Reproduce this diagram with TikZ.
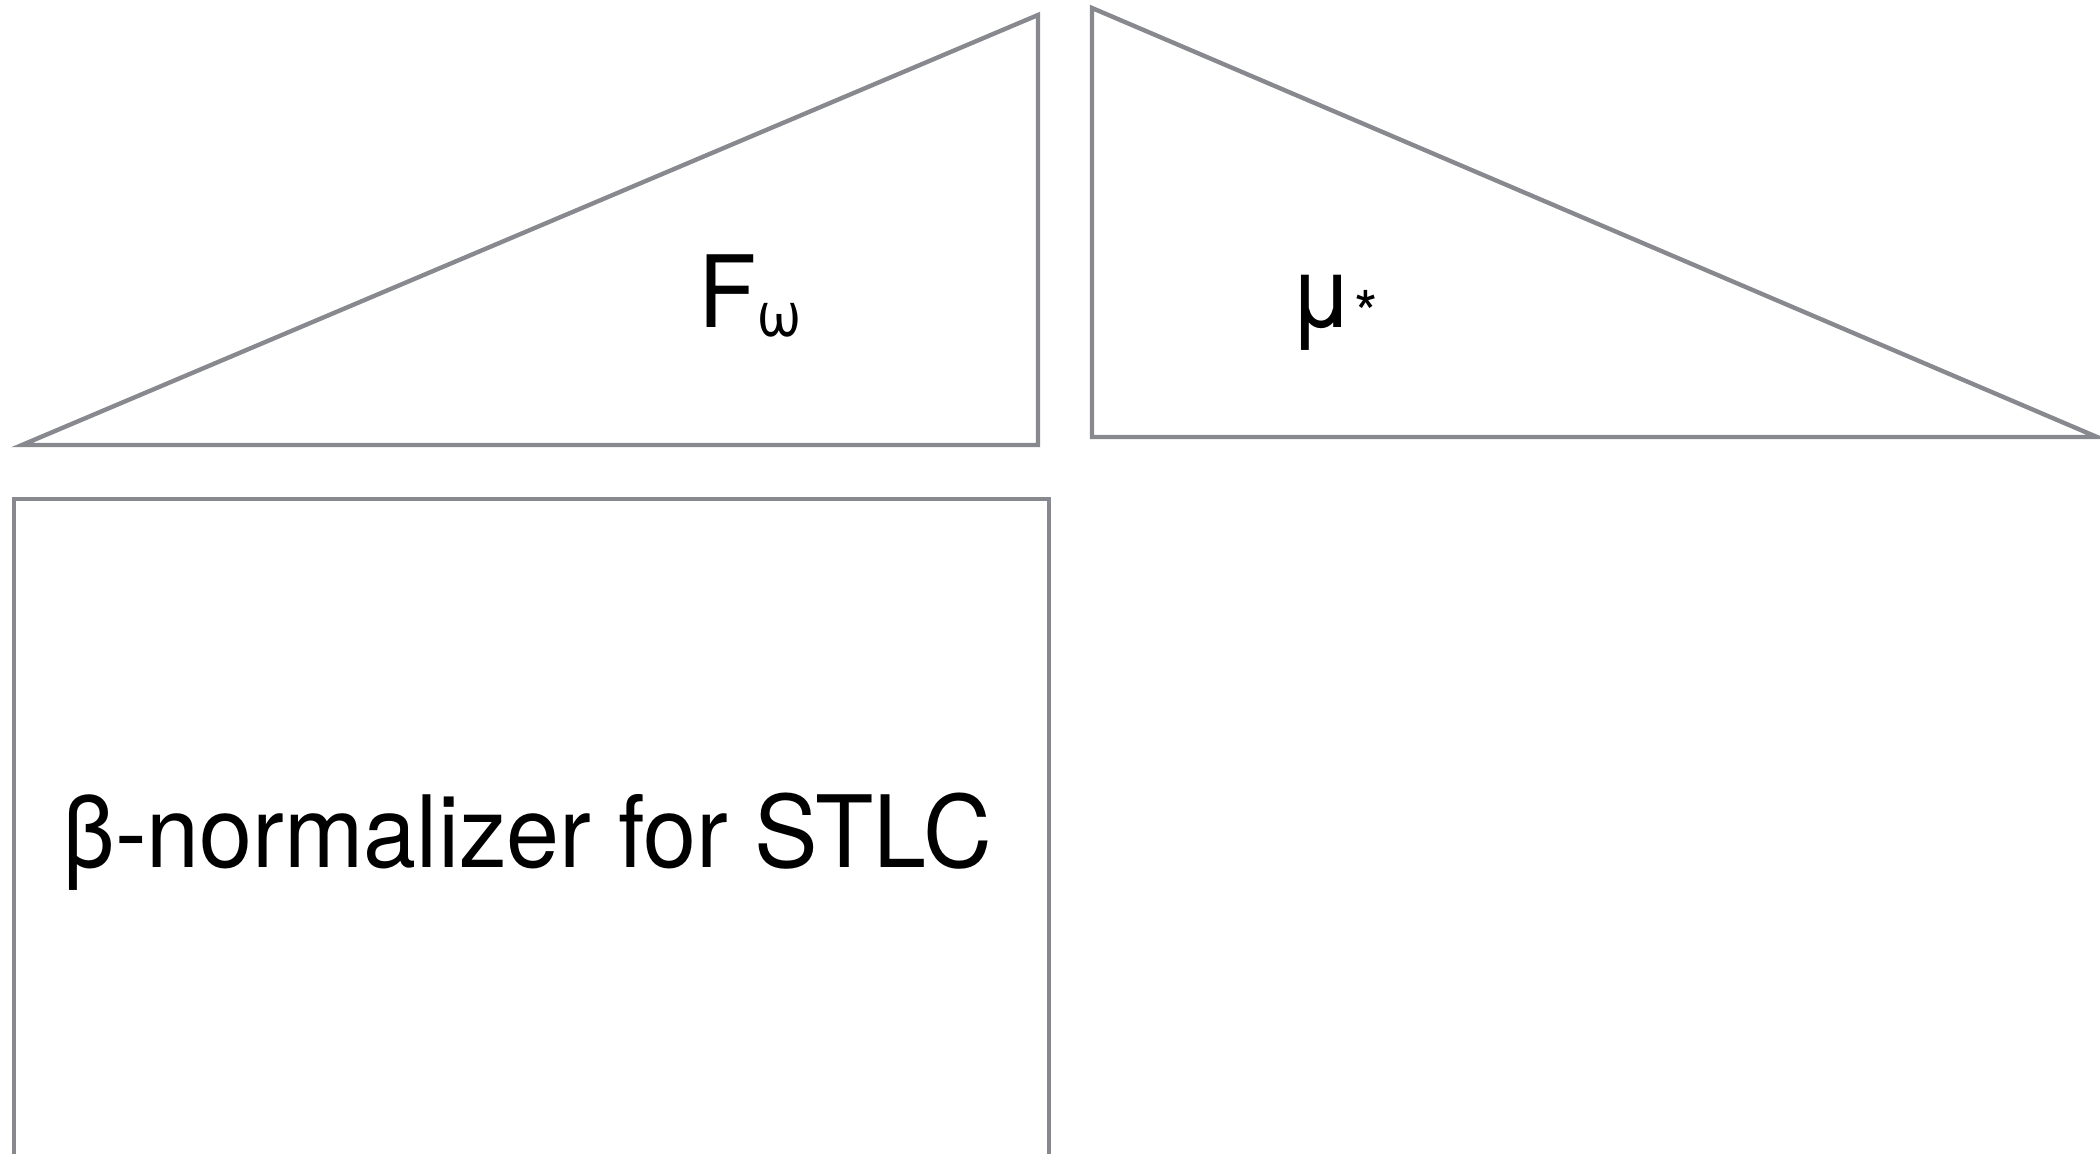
\documentclass[tikz,border=0pt]{standalone}
\usepackage{fontspec}
\setmainfont{TeX Gyre Heros}[FakeStretch=0.955]
\definecolor{framegray}{RGB}{136,137,142}
\newcommand{\lowsub}[1]{\raisebox{-0.09cm}{\fontsize{18pt}{18pt}\selectfont #1}}
\tikzset{
  frame/.style={draw=framegray, line width=1.25pt},
  tag/.style={inner sep=0pt, anchor=base west, font=\fontsize{28.4pt}{30pt}\selectfont}
}
\begin{document}
\begin{tikzpicture}
       \useasboundingbox (0,0) rectangle (21,11.54);
       % F omega
       \draw[frame] (0.22,7.09) -- (10.38,11.39) -- (10.38,7.09) -- cycle;
       \node [tag] (fomega) at (6.98,8.26) {F\lowsub{ω}};
       % mu star
       \draw[frame] (10.92,11.46) -- (10.92,7.17) -- (20.97,7.17) -- cycle;
       \node [tag] (mustar) at (12.88,8.26) {μ\lowsub{*}};
       % STLC box
       \draw[frame] (0.14,-0.5) rectangle (10.49,6.55);
       \node [tag] (stlc) at (0.62,2.86) {β-normalizer for STLC};
     \end{tikzpicture}
\end{document}
